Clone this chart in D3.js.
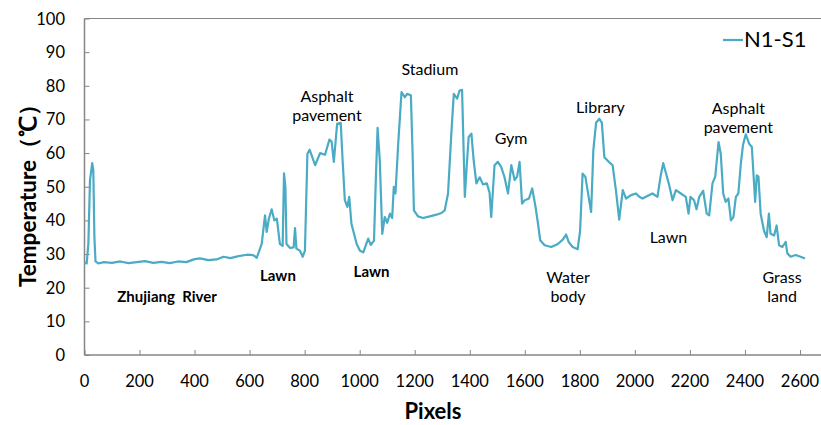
<!DOCTYPE html>
<html>
<head>
<meta charset="utf-8">
<script src="https://cdn.jsdelivr.net/npm/d3@7"></script>
<style>
  body { margin: 0; background: #fff; }
  text { font-family: Lato, "Open Sans", sans-serif; white-space: pre; }
</style>
</head>
<body>
<svg id="chart"></svg>
<script>
// pixel position along the transect (N1-S1)
var pixels = [0, 8, 14, 20, 28, 32, 36, 40, 50, 70, 100, 130, 160, 190, 220, 250, 280, 310, 340, 370,
  400, 420, 450, 480, 505, 530, 560, 590, 613, 626, 644, 656, 662, 670, 680, 690, 699, 710, 720, 725,
  730, 734, 747, 760, 765, 770, 783, 793, 801, 810, 818, 838, 856, 874, 890, 898, 906, 918, 931, 938,
  946, 955, 962, 970, 989, 1001, 1013, 1031, 1040, 1052, 1059, 1065, 1073, 1082, 1091, 1100, 1110, 1118, 1124, 1130,
  1140, 1152, 1164, 1172, 1186, 1192, 1197, 1212, 1230, 1255, 1279, 1297, 1309, 1321, 1333, 1342, 1354, 1363, 1372, 1382,
  1388, 1396, 1406, 1414, 1424, 1436, 1448, 1462, 1472, 1478, 1490, 1502, 1514, 1526, 1539, 1551, 1563, 1572, 1581, 1590,
  1600, 1615, 1627, 1639, 1648, 1656, 1672, 1696, 1720, 1738, 1750, 1760, 1774, 1792, 1801, 1810, 1820, 1832, 1841, 1849,
  1859, 1871, 1880, 1889, 1905, 1919, 1931, 1943, 1956, 1968, 1986, 2004, 2016, 2028, 2040, 2064, 2082, 2094, 2103, 2113,
  2125, 2137, 2149, 2167, 2185, 2195, 2202, 2215, 2224, 2234, 2248, 2261, 2270, 2282, 2292, 2304, 2312, 2321, 2330, 2340,
  2349, 2358, 2367, 2376, 2385, 2393, 2403, 2415, 2425, 2431, 2437, 2443, 2449, 2457, 2469, 2479, 2487, 2493, 2506, 2515,
  2524, 2536, 2548, 2554, 2566, 2584, 2602, 2618];

// temperature (°C)
var temps = [27.5, 27.2, 33, 52, 57, 55, 35, 27.8, 27.2, 27.6, 27.4, 27.8, 27.3, 27.6, 27.9, 27.4, 27.7, 27.3, 27.8, 27.6,
  28.5, 28.7, 28.2, 28.4, 29.2, 28.8, 29.4, 29.8, 29.7, 28.9, 33, 41.5, 36.6, 40.5, 43.3, 40, 40.5, 33, 32.4, 54,
  50, 33, 31.8, 32, 37.7, 31.6, 31, 29.2, 31, 59.8, 61, 56.4, 60, 59.5, 64, 63.4, 57.4, 68.7, 69, 57.8,
  46, 44, 47, 39, 33, 31, 30.5, 34.6, 32.7, 34, 53, 67.5, 57.9, 36, 41, 39.3, 42, 40.7, 50, 48,
  62.8, 78.1, 76.6, 77.6, 77.2, 60.6, 43, 41.2, 40.7, 41.2, 41.7, 42.2, 43, 48, 65.8, 77.6, 76.2, 78.6, 78.8, 47,
  55, 64.8, 65.8, 58, 51, 52.8, 50.7, 51, 48.2, 41, 56.4, 57.4, 55.9, 52.9, 48, 56.4, 52, 53, 57.4, 45,
  46, 46.5, 49.5, 44, 39, 34.1, 32.6, 32.1, 33, 34.3, 35.8, 33.5, 32.1, 31.4, 37, 53.9, 53, 47, 42.5, 60.8,
  69, 70.2, 69, 58.8, 57.4, 56.4, 49, 40.2, 49, 46.5, 47.5, 48, 47, 46.5, 47, 48, 47, 53.4, 57, 54,
  50.4, 46, 49, 48, 47, 42, 47, 46, 43.3, 47, 48.8, 42, 41.5, 51, 53, 63.3, 59.8, 48, 45.5, 46.5,
  40, 41, 47, 48, 56.9, 62.5, 65.6, 62.8, 61.8, 53.8, 45.5, 53.4, 53, 42, 37, 35, 42, 36, 35.5, 38.5,
  32.6, 32.1, 33.6, 30.2, 29.2, 29.7, 29.2, 28.7];

var xTicks = d3.range(0, 2601, 200);
var yTicks = d3.range(0, 101, 10);
var seriesName = "N1-S1";

// land-cover labels: [lines, pixel, temperature, bold]
var labels = [
  [["Zhujiang  River"], 300, 15.75, true],
  [["Lawn"], 703, 22, true],
  [["Asphalt", "pavement"], 881, 75.3, false],
  [["Lawn"], 1043, 23.2, true],
  [["Stadium"], 1255, 83.2, false],
  [["Gym"], 1550, 62.7, false],
  [["Library"], 1875, 71.9, false],
  [["Water", "body"], 1757, 21.4, false],
  [["Lawn"], 2122, 33.3, false],
  [["Asphalt", "pavement"], 2376, 71.6, false],
  [["Grass", "land"], 2535, 21.4, false]
];

var W = 821, H = 425;
var plotL = 84.5, plotR = 821, plotT = 18.5, plotB = 355;
var lineColor = "#4aabc5", axisColor = "#868686";

var svg = d3.select("#chart").attr("width", W).attr("height", H);

var x = d3.scaleLinear().domain([0, 2600]).range([plotL, 800]);
var y = d3.scaleLinear().domain([0, 100]).range([plotB, plotT]);

// top border
svg.append("line").attr("x1", plotL).attr("x2", plotR).attr("y1", plotT).attr("y2", plotT)
  .attr("stroke", axisColor);

// y axis
var yAxis = svg.append("g").attr("transform", "translate(" + plotL + ",0)")
  .call(d3.axisRight(y).tickValues(yTicks).tickSize(5).tickFormat(""));
yAxis.select(".domain").remove();
yAxis.selectAll("line").attr("stroke", axisColor);
svg.append("line").attr("x1", plotL).attr("x2", plotL).attr("y1", plotT).attr("y2", plotB)
  .attr("stroke", axisColor).attr("stroke-width", 1.5);
svg.selectAll(".ylab").data(yTicks).enter().append("text")
  .attr("x", 65).attr("y", function (d) { return y(d) + 6; })
  .attr("text-anchor", "end").attr("font-size", 16.5).attr("fill", "#000")
  .text(function (d) { return d; });

// x axis
var xAxis = svg.append("g").attr("transform", "translate(0," + plotB + ")")
  .call(d3.axisTop(x).tickValues(xTicks).tickSize(5).tickFormat(""));
xAxis.select(".domain").remove();
xAxis.selectAll("line").attr("stroke", axisColor);
svg.append("line").attr("x1", plotL).attr("x2", plotR).attr("y1", plotB).attr("y2", plotB)
  .attr("stroke", axisColor).attr("stroke-width", 1.5);
svg.selectAll(".xlab").data(xTicks).enter().append("text")
  .attr("x", function (d) { return x(d); }).attr("y", 387)
  .attr("text-anchor", "middle").attr("font-size", 16.5).attr("fill", "#000")
  .text(function (d) { return d; });

// axis titles
svg.append("text").attr("x", 433).attr("y", 419).attr("text-anchor", "middle")
  .attr("font-size", 22).attr("font-weight", "bold").text("Pixels");
svg.append("text").attr("transform", "translate(36,190) rotate(-90)")
  .attr("text-anchor", "middle").attr("font-size", 22.5).attr("font-weight", "bold")
  .text("Temperature（℃）");

// temperature profile
var pts = pixels.map(function (p, i) { return [p, temps[i]]; });
var line = d3.line().x(function (d) { return x(d[0]); }).y(function (d) { return y(d[1]); });
svg.append("path").datum(pts).attr("d", line)
  .attr("fill", "none").attr("stroke", lineColor).attr("stroke-width", 2.2)
  .attr("stroke-linejoin", "round");

// labels
labels.forEach(function (l) {
  var t = svg.append("text").attr("text-anchor", "middle")
    .attr("font-size", l[3] ? 15 : 16).attr("font-weight", l[3] ? "bold" : "normal")
    .attr("fill", "#000");
  l[0].forEach(function (s, i) {
    t.append("tspan").attr("x", x(l[1])).attr("y", y(l[2]) + i * 19).text(s);
  });
});

// legend
svg.append("line").attr("x1", 723).attr("x2", 743).attr("y1", 40).attr("y2", 40)
  .attr("stroke", lineColor).attr("stroke-width", 2.2);
svg.append("text").attr("x", 744).attr("y", 47).attr("font-size", 22).text(seriesName);
</script>
</body>
</html>
